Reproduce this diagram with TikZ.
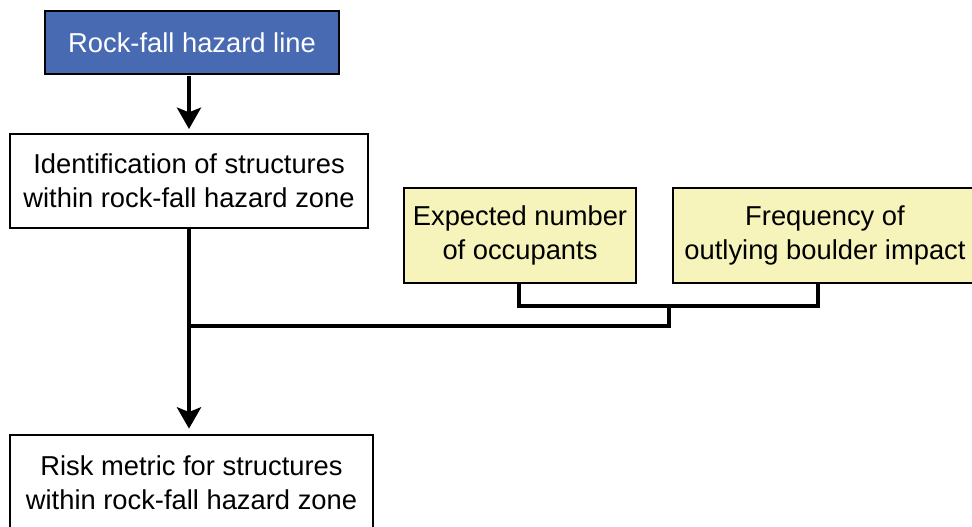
\documentclass[tikz,border=0pt]{standalone}
\usepackage{fontspec}
\setmainfont{Liberation Sans}
\usepackage{tikz}
\usetikzlibrary{arrows.meta, calc}
\definecolor{figB}{RGB}{72,106,178}
\definecolor{figY}{RGB}{246,244,186}
\tikzset{box/.style={draw=black, line width=1.5pt, inner sep=0pt, align=center,
  font=\fontsize{20.5}{25.5}\selectfont},
  joinline/.style={draw=black, line width=3pt},
  flowarrow/.style={joinline, -{Stealth[width=18pt, length=16pt, inset=3.5pt]}}}

\begin{document}
\begin{tikzpicture}[x=0.75pt, y=-0.75pt]
\useasboundingbox (0,0) rectangle (972,527);
% main column
\node[box, fill=figB, text=white, minimum width=294*0.75pt, minimum height=63*0.75pt]
  (hazard) at (192,42.5) {Rock-fall hazard line};
\node[box, fill=white, minimum width=358*0.75pt, minimum height=94*0.75pt]
  (ident) at (189,181) {Identification of structures\\within rock-fall hazard zone};
\node[box, fill=white, minimum width=363*0.75pt, minimum height=96*0.75pt]
  (risk) at (191.5,483) {Risk metric for structures\\within rock-fall hazard zone};
% input factors
\node[box, fill=figY, minimum width=232*0.75pt, minimum height=95*0.75pt]
  (occ) at (520,235.5) {Expected number\\of occupants};
\node[box, fill=figY, minimum width=304*0.75pt, minimum height=95*0.75pt]
  (freq) at (825,235.5) {Frequency of\\outlying boulder impact};
% joins
\coordinate (freqfoot) at (818,283);
\coordinate (mid) at (669,306);
\coordinate (tee) at (189,326);
\draw[flowarrow, shorten <=1pt, shorten >=3pt] (ident.north |- hazard.south) -- (ident.north);
\draw[flowarrow, shorten >=4pt] (ident.south) -- (ident.south |- risk.north);
\draw[joinline] (occ.south -| 519,0) |- (mid) -| (freqfoot);
\draw[joinline] (mid) |- (tee);
\end{tikzpicture}
\end{document}
